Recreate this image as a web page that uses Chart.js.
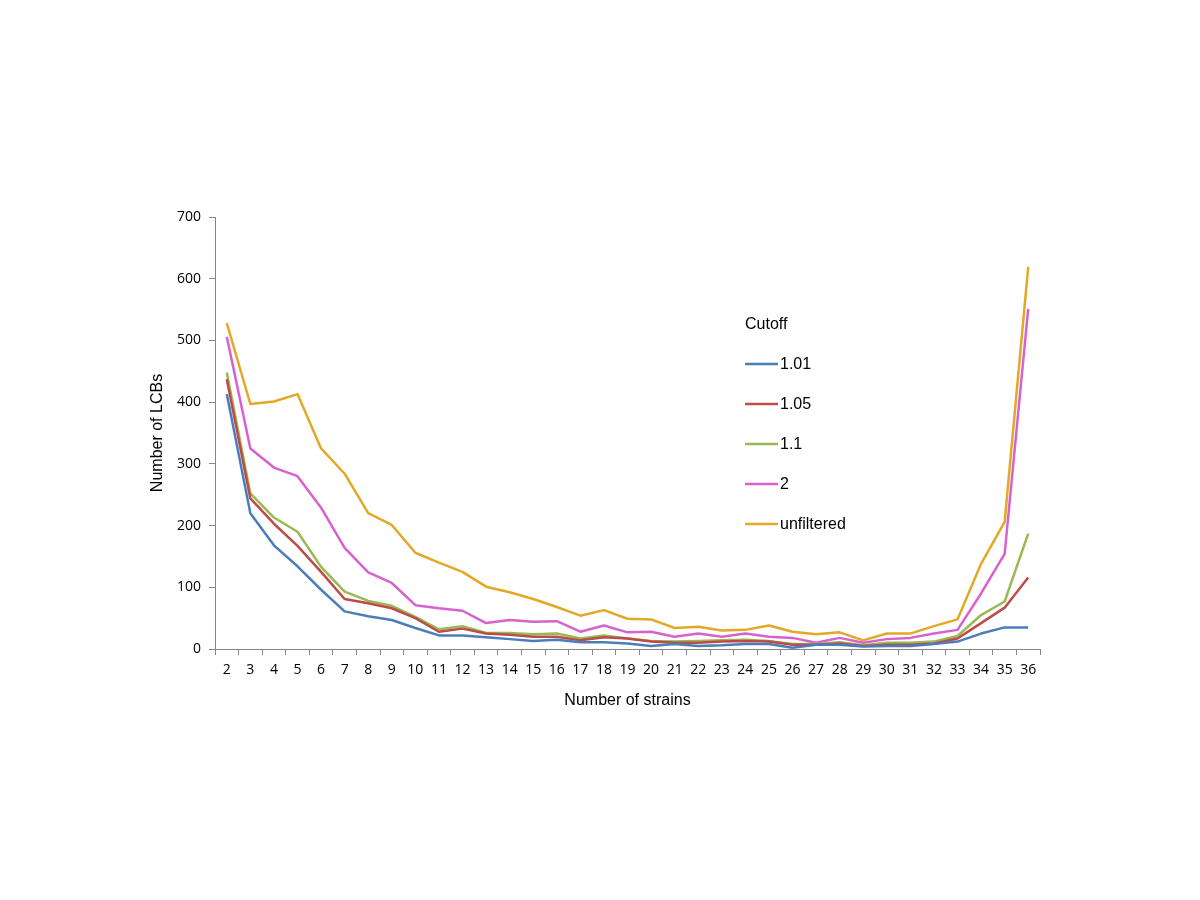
<!DOCTYPE html>
<html lang="en">
<head>
  <meta charset="UTF-8" />
  <title>Number of LCBs by number of strains</title>
  <style>
    * { box-sizing: border-box; margin: 0; padding: 0; }
    body { background-color: #ffffff; width: 1200px; height: 900px; overflow: hidden; }
    #chartContainer { width: 1200px; height: 900px; }
  </style>
</head>
<body>
  <div id="chartContainer">
    <canvas id="lcbChart" width="1200" height="900"></canvas>
  </div>

  <script src="https://cdn.jsdelivr.net/npm/chart.js"></script>
  <script>
    // x categories: number of strains 2..36
    const strains = ['2','3','4','5','6','7','8','9','10','11','12','13','14','15','16','17','18','19',
                     '20','21','22','23','24','25','26','27','28','29','30','31','32','33','34','35','36'];

    const cutoff101 = [413, 220, 168, 134, 96, 61, 53, 47, 34, 22, 22, 19, 16, 13, 15, 11, 11, 9,
                       5, 8, 5, 6, 8, 8, 2, 7, 7, 4, 5, 5, 8, 12, 25, 35, 35];
    const cutoff105 = [437, 244, 203, 167, 125, 81, 74, 66, 50, 28, 33, 25, 23, 20, 20, 14, 19, 17,
                       12, 10, 10, 12, 13, 12, 7, 7, 9, 5, 7, 7, 9, 17, 42, 67, 116];
    const cutoff11  = [448, 252, 213, 190, 133, 93, 78, 70, 52, 32, 37, 26, 26, 24, 25, 17, 22, 17,
                       13, 12, 13, 14, 15, 13, 8, 8, 11, 6, 10, 10, 12, 21, 55, 77, 187];
    const cutoff2   = [506, 325, 294, 280, 229, 164, 124, 107, 71, 66, 62, 42, 47, 44, 45, 28, 38, 27,
                       28, 20, 25, 20, 25, 20, 18, 10, 18, 10, 16, 18, 25, 31, 90, 154, 551];
    const unfiltered = [528, 397, 401, 413, 325, 284, 220, 201, 156, 140, 125, 101, 92, 81, 68, 54, 63, 49,
                        48, 34, 36, 30, 31, 38, 28, 24, 27, 14, 25, 25, 37, 48, 138, 206, 619];

    const yTicks = [0, 100, 200, 300, 400, 500, 600, 700];

    // legend drawn inside the plot, like the original
    const insideLegend = {
      id: 'insideLegend',
      afterDraw(chart) {
        const c = chart.ctx;
        c.save();
        c.font = '16px "Liberation Sans", Arial, sans-serif';
        c.fillStyle = '#000';
        c.textBaseline = 'middle';
        c.textAlign = 'left';
        c.fillText('Cutoff', 745, 325);
        chart.data.datasets.forEach((ds, i) => {
          const y = 364 + i * 40;
          c.strokeStyle = ds.borderColor;
          c.lineWidth = 2.5;
          c.beginPath();
          c.moveTo(745, y);
          c.lineTo(778, y);
          c.stroke();
          c.fillText(ds.label, 780, y + 1);
        });
        c.restore();
      }
    };

    const ctx = document.getElementById('lcbChart').getContext('2d');
    const lcbChart = new Chart(ctx, {
      type: 'line',
      data: {
        labels: strains,
        datasets: [
          { label: '1.01', data: cutoff101, borderColor: '#4a7ebb' },
          { label: '1.05', data: cutoff105, borderColor: '#be4b48' },
          { label: '1.1', data: cutoff11, borderColor: '#98b954' },
          { label: '2', data: cutoff2, borderColor: '#d762cf' },
          { label: 'unfiltered', data: unfiltered, borderColor: '#e3a825' }
        ].map(ds => Object.assign(ds, {
          borderWidth: 2.5,
          pointRadius: 0,
          pointHoverRadius: 0,
          tension: 0,
          fill: false,
          borderJoinStyle: 'round'
        }))
      },
      plugins: [insideLegend],
      options: {
        responsive: false,
        animation: false,
        layout: { padding: { left: 140, top: 217, right: 160, bottom: 182 } },
        plugins: {
          legend: { display: false },
          tooltip: { enabled: false }
        },
        scales: {
          x: {
            offset: true,
            grid: { offset: true, drawOnChartArea: false, tickLength: 6, color: '#868686', tickWidth: 1 },
            border: { color: '#868686', width: 1 },
            ticks: { color: '#000', font: { family: '"Open Sans", sans-serif', size: 14 }, padding: 7, maxRotation: 0, autoSkip: false },
            title: { display: true, text: 'Number of strains', color: '#000',
                     font: { family: '"Liberation Sans", Arial, sans-serif', size: 16 }, padding: { top: 0, bottom: 8 } },
            afterFit: s => { s.height = 69; }
          },
          y: {
            min: 0,
            max: 700,
            afterBuildTicks: s => { s.ticks = yTicks.map(v => ({ value: v })); },
            grid: { drawOnChartArea: false, tickLength: 6, color: '#868686' },
            border: { color: '#868686', width: 1 },
            ticks: { color: '#000', font: { family: '"Open Sans", sans-serif', size: 14 }, padding: 8 },
            title: { display: true, text: 'Number of LCBs', color: '#000',
                     font: { family: '"Liberation Sans", Arial, sans-serif', size: 16 }, padding: { top: 8, bottom: 0 } },
            afterFit: s => { s.width = 215 - 140; }
          }
        }
      }
    });
  </script>
</body>
</html>
